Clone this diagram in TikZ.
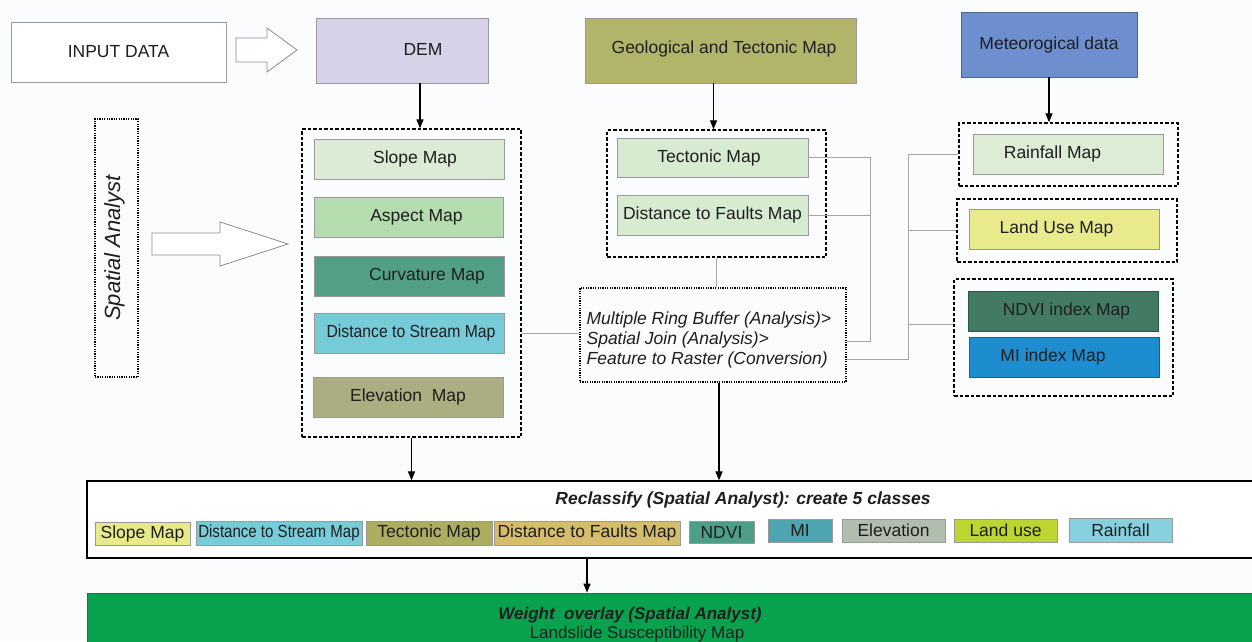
\documentclass[tikz,border=0pt]{standalone}
\usepackage{fontspec}
\setmainfont{Liberation Sans}
\usetikzlibrary{arrows.meta,calc}
\definecolor{bg}{HTML}{FBFCFD}
\definecolor{txt}{HTML}{1E1E1E}
\definecolor{cInput}{HTML}{FFFFFF}
\definecolor{cDem}{HTML}{D8D2E8}
\definecolor{cGeo}{HTML}{B2B46A}
\definecolor{cMet}{HTML}{6E8FCF}
\definecolor{cSlope}{HTML}{DCEBD5}
\definecolor{cAspect}{HTML}{B5DCAE}
\definecolor{cCurv}{HTML}{529F85}
\definecolor{cStream}{HTML}{76CBD9}
\definecolor{cElev}{HTML}{ACAD80}
\definecolor{cTect}{HTML}{D7EBD1}
\definecolor{cRain}{HTML}{DCECD6}
\definecolor{cLand}{HTML}{E8EA8C}
\definecolor{cNdvi}{HTML}{437A63}
\definecolor{cMi}{HTML}{1E8DCF}
\definecolor{kSlope}{HTML}{E8EA8A}
\definecolor{kStream}{HTML}{77CCD9}
\definecolor{kTect}{HTML}{ADAD62}
\definecolor{kFault}{HTML}{D5BD6B}
\definecolor{kNdvi}{HTML}{4C9F86}
\definecolor{kMi}{HTML}{4DA6AF}
\definecolor{kElev}{HTML}{B1BDAD}
\definecolor{kLand}{HTML}{BDD531}
\definecolor{kRain}{HTML}{87D1DE}
\definecolor{cGreen}{HTML}{08A14D}
\tikzset{
  box/.style={draw=black!40, line width=0.8pt, inner sep=0pt, text=txt, align=center},
  grp/.style={draw=black, line width=1.4pt, dash pattern=on 3.5pt off 2pt, inner sep=0pt},
  dotbox/.style={draw=black, line width=1.2pt, dash pattern=on 1.2pt off 1.2pt, inner sep=0pt},
  chip/.style={draw=black!40, line width=0.7pt, inner sep=0pt, text=txt, font=\fontsize{17.5}{20}\selectfont},
  conn/.style={draw=black!35, line width=0.9pt},
  arr/.style={draw=black, line width=1.2pt, -{Triangle[length=9pt,width=7pt]}},
  hollow/.style={draw=black!45, line width=0.8pt, fill=white},
}
\begin{document}
\begin{tikzpicture}[x=1pt,y=-1pt, font=\fontsize{17.5}{20}\selectfont]
\useasboundingbox (0,0) rectangle (1252,641);
\fill[bg] (0,0) rectangle (1252,641);

% top row
\node[box, fill=cInput, minimum width=215, minimum height=60] (input) at (118.5,52) {INPUT DATA};
\node[box, fill=cDem, minimum width=172, minimum height=65] (dem) at (402,50.5) {\raisebox{3pt}{\hspace*{42pt}DEM}};
\node[box, fill=cGeo, minimum width=271, minimum height=65] (geo) at (720.5,50.5) {\raisebox{6pt}{\hspace*{7pt}Geological and Tectonic Map}};
\node[box, draw=cMet!70!black, fill=cMet, minimum width=176, minimum height=65] (met) at (1049,44.5) {Meteorogical data};

\draw[hollow] (236,38) -- (267,38) -- (267,28) -- (297,50) -- (267,72) -- (267,62) -- (236,62) -- cycle;
\draw[hollow] (152,233) -- (220,233) -- (220,222) -- (288,244) -- (220,266) -- (220,255) -- (152,255) -- cycle;

% spatial analyst
\node[dotbox, minimum width=43, minimum height=258] (spatial) at (116.5,248) {};
\node[rotate=90, text=txt, font=\fontsize{22}{24}\selectfont\itshape] (spatialtxt) at ($(spatial.center)+(-2,0)$) {Spatial Analyst};

% DEM group
\node[grp, minimum width=219, minimum height=308] (demgrp) at (411.5,283) {};
\node[box, fill=cSlope, minimum width=190, minimum height=40] (slope) at (409,159) {\raisebox{3pt}{\hspace*{12pt}Slope Map}};
\node[box, fill=cAspect, minimum width=189, minimum height=40] (aspect) at (408.5,217) {\raisebox{3pt}{\hspace*{16pt}Aspect Map}};
\node[box, fill=cCurv, minimum width=190, minimum height=40] (curv) at (409,276) {\raisebox{3pt}{\hspace*{36pt}Curvature Map}};
\node[box, fill=cStream, minimum width=190, minimum height=40] (stream) at (409,333) {\hspace*{4pt}\scalebox{0.9}[1]{Distance to Stream Map}};
\node[box, fill=cElev, minimum width=190, minimum height=40] (elev) at (408,397) {Elevation\ \ Map};

% tectonic group
\node[grp, minimum width=219, minimum height=127] (tecgrp) at (716.5,193.5) {};
\node[box, fill=cTect, minimum width=191, minimum height=39] (tect) at (712.5,157.5) {Tectonic Map\hspace*{7pt}};
\node[box, fill=cTect, minimum width=191, minimum height=40] (faults) at (712.5,215) {Distance to Faults Map};

% process
\node[dotbox, minimum width=266, minimum height=94] (proc) at (713,335) {};
\node[anchor=west, align=left, text=txt, inner sep=0pt, font=\fontsize{17.5}{20}\selectfont\itshape] (proctxt) at ($(proc.west)+(7,5)$) {Multiple Ring Buffer (Analysis)>\\Spatial Join (Analysis)>\\Feature to Raster (Conversion)};

% right column
\node[grp, minimum width=219, minimum height=63] (raingrp) at (1068.5,154.5) {};
\node[box, fill=cRain, minimum width=190, minimum height=40] (rain) at (1068,154) {Rainfall Map\hspace*{31pt}};
\node[grp, minimum width=220, minimum height=63] (landgrp) at (1067,230.5) {};
\node[box, fill=cLand, minimum width=190, minimum height=40] (land) at (1064,229) {Land Use Map\hspace*{15pt}};
\node[grp, minimum width=219, minimum height=117] (ndvigrp) at (1063.5,337.5) {};
\node[box, draw=cNdvi!70!black, fill=cNdvi, minimum width=190, minimum height=40] (ndvi) at (1063,311) {\hspace*{7pt}NDVI index Map};
\node[box, draw=cMi!70!black, fill=cMi, minimum width=190, minimum height=40] (mi) at (1064,357) {MI index Map\hspace*{22pt}};

% reclassify
\node[draw=black, line width=1.3pt, fill=white, minimum width=1175, minimum height=77, inner sep=0pt] (reclass) at (674.5,519.5) {};
\node[text=txt, font=\fontsize{17.5}{20}\selectfont\bfseries\itshape, inner sep=0pt] (rtitle) at (743,500) {Reclassify (Spatial Analyst): create 5 classes};
\node[chip, fill=kSlope, minimum width=95, minimum height=23] (k1) at (142.5,533.5) {Slope Map};
\node[chip, fill=kStream, minimum width=166, minimum height=24] (k2) at (279,533) {\scalebox{0.86}[1]{Distance to Stream Map}};
\node[chip, fill=kTect, minimum width=126, minimum height=24] (k3) at (429,533) {Tectonic Map};
\node[chip, fill=kFault, minimum width=186, minimum height=24] (k4) at (587,533) {Distance to Faults Map};
\node[chip, fill=kNdvi, minimum width=65, minimum height=22] (k5) at (721.5,532) {NDVI};
\node[chip, fill=kMi, minimum width=64, minimum height=23] (k6) at (800,530.5) {MI};
\node[chip, fill=kElev, minimum width=103, minimum height=23] (k7) at (893.5,530.5) {Elevation};
\node[chip, fill=kLand, minimum width=103, minimum height=23] (k8) at (1005.5,530.5) {Land use};
\node[chip, fill=kRain, minimum width=103, minimum height=24] (k9) at (1120.5,530) {Rainfall};

% weight overlay
\node[draw=cGreen!80!black, line width=0.8pt, fill=cGreen, minimum width=1175, minimum height=52, inner sep=0pt] (green) at (674.5,619) {};
\node[text=txt, font=\fontsize{17}{20}\selectfont\bfseries\itshape, inner sep=0pt] (wtitle) at (630,615) {Weight\ \ overlay (Spatial Analyst)};
\node[text=txt, font=\fontsize{17}{20}\selectfont, inner sep=0pt] (wsub) at (637,634) {Landslide Susceptibility Map};

% black arrows
\coordinate (da) at ($(dem.south)+(18,0)$);
\draw[arr] (da) -- (da |- demgrp.north);
\coordinate (ga) at ($(geo.south)+(-7,0)$);
\draw[arr] (ga) -- (ga |- tecgrp.north);
\draw[arr] (met.south) -- (met.south |- raingrp.north);
\draw[arr] (demgrp.south) -- (demgrp.south |- reclass.north);
\coordinate (pa) at ($(proc.south)+(6,0)$);
\draw[arr] (pa) -- (pa |- reclass.north);
\coordinate (rx) at (587,0);
\draw[arr] (reclass.south -| rx) -- (green.north -| rx);

% gray connectors
\coordinate (bus1) at ($(proc.east)+(24,6)$);
\coordinate (pin1) at ($(proc.east)+(0,6)$);
\draw[conn] (tect.east) -| (bus1) -- (pin1);
\draw[conn] (faults.east) -- (faults.east -| bus1);
\coordinate (pin2) at ($(proc.east)+(0,24)$);
\coordinate (bus2) at ($(proc.east)+(62,24)$);
\draw[conn] (pin2) -- (bus2) -- (bus2 |- raingrp.west) -- (raingrp.west);
\draw[conn] (bus2 |- landgrp.west) -- (landgrp.west);
\coordinate (nin) at ($(ndvigrp.west)+(0,-13)$);
\draw[conn] (bus2 |- nin) -- (nin);
\draw[conn] (demgrp.east |- stream.east) -- (proc.west |- stream.east);
\draw[conn] (tecgrp.south) -- (tecgrp.south |- proc.north);
\end{tikzpicture}
\end{document}
